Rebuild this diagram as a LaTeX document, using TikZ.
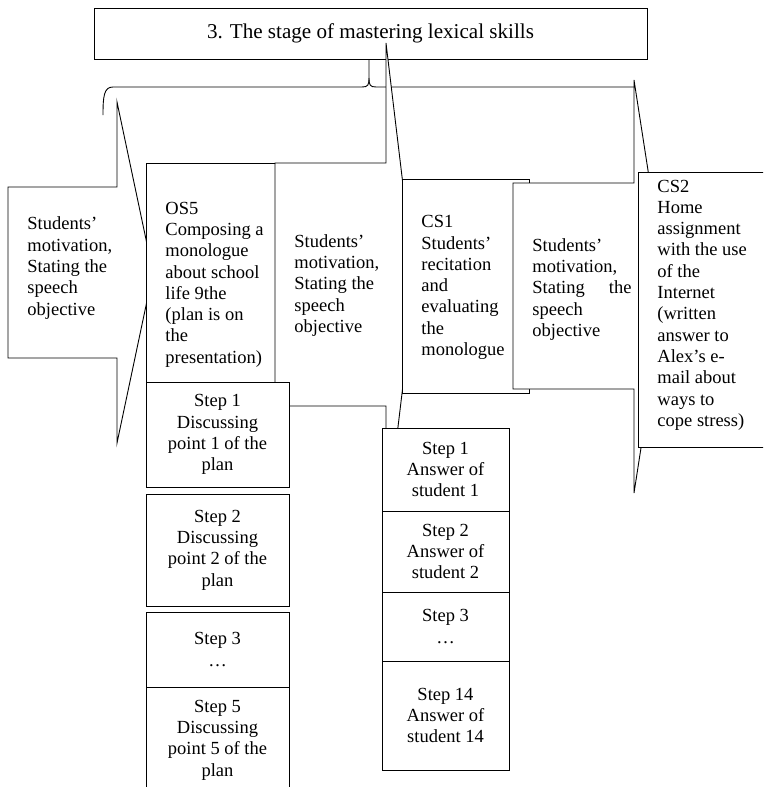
\documentclass[tikz,border=0pt]{standalone}
\usepackage{fontspec}
\setmainfont{Liberation Serif}
\usetikzlibrary{positioning}
\newcommand{\boxfont}{\fontsize{18.5}{21.3}\selectfont}
\newcommand{\headfont}{\fontsize{21.1}{24}\selectfont}

\begin{document}
\begin{tikzpicture}[
    x=1pt, y=-1pt,
    line width=0.9pt,
    frame/.style={draw, fill=white, inner sep=0pt, outer sep=0pt, anchor=north west},
    callout/.style={draw, fill=white},
    boxtext/.style={font=\boxfont, align=left, inner sep=0pt, anchor=west},
    stepbox/.style={draw, fill=white, inner sep=0pt, outer sep=0pt,
                    minimum width=143pt, font=\boxfont, align=center},
    answerbox/.style={draw, fill=white, inner sep=0pt, outer sep=0pt,
                      minimum width=127pt, font=\boxfont, align=center}
]
\useasboundingbox (0,0) rectangle (763,787);
\clip (0,0) rectangle (763,787);

% Title
\node[frame, minimum width=553pt, minimum height=51pt, font=\headfont] (title) at (94,8)
    {3. The stage of mastering lexical skills};

% Brace
\draw (103,115) .. controls (103,96) and (104,87) .. (113,87) -- (362,87)
      .. controls (368,87) and (369,85) .. (369,78) -- (369,59);
\draw (369,78) .. controls (369,85) and (370,87) .. (376,87) -- (634,87);

% Left callout
\draw[callout] (8,187) -- (117,187) -- (117,102) -- (153,272.5) -- (117,443)
      -- (117,358) -- (8,358) -- cycle;
\node[boxtext] (motiveA) at (27,268) {Students'\\motivation,\\Stating the\\speech\\objective};

% OS5
\node[frame, minimum width=139pt, minimum height=230pt] (os5) at (146,163) {};
\node[boxtext] (os5text) at (165,284.5)
    {OS5\\Composing a\\monologue\\about school\\life 9the\\(plan is on\\the\\presentation)};

% Middle callout
\draw[callout] (275,163) -- (386,163) -- (386,43) -- (415,285) -- (386,527)
      -- (386,406) -- (275,406) -- cycle;
\node[boxtext] (motiveB) at (294,285.5) {Students'\\motivation,\\Stating the\\speech\\objective};

% Steps of OS5
\node[stepbox, minimum height=105pt, anchor=north west] (step1) at (146,382)
    {Step 1\\Discussing\\point 1 of the\\plan};
\node[stepbox, minimum height=112pt, below=7pt of step1] (step2)
    {Step 2\\Discussing\\point 2 of the\\plan};
\node[stepbox, minimum height=75pt, below=6pt of step2] (step3) {Step 3\\…};
\node[stepbox, minimum height=106pt, below=0pt of step3] (step5)
    {Step 5\\Discussing\\point 5 of the\\plan};

% CS1
\node[frame, minimum width=127pt, minimum height=214pt] (cs1) at (402,179) {};
\node[boxtext] (cs1text) at (421,287.5)
    {CS1\\Students'\\recitation\\and\\evaluating\\the\\monologue};

% Answers
\node[answerbox, minimum height=83pt, anchor=north west] (ans1) at (382,428)
    {Step 1\\Answer of\\student 1};
\node[answerbox, minimum height=81pt, below=0pt of ans1] (ans2) {Step 2\\Answer of\\student 2};
\node[answerbox, minimum height=69pt, below=0pt of ans2] (ans3) {Step 3\\…};
\node[answerbox, minimum height=109pt, below=0pt of ans3] (ans14) {Step 14\\Answer of\\student 14};

% Right callout
\draw[callout] (513,183) -- (634,183) -- (634,80) -- (666,286.5) -- (634,493)
      -- (634,389) -- (513,389) -- cycle;
\node[boxtext, text width=99pt] (motiveD) at (532,289.5)
    {Students'\\motivation,\\Stating\hfill the\\speech\\objective};

% CS2
\node[frame, minimum width=140pt, minimum height=275pt] (cs2) at (638,172) {};
\node[boxtext] (cs2text) at (657,305)
    {CS2\\Home\\assignment\\with the use\\of the\\Internet\\(written\\answer to\\Alex's e-\\mail about\\ways to\\cope stress)};

\end{tikzpicture}
\end{document}
